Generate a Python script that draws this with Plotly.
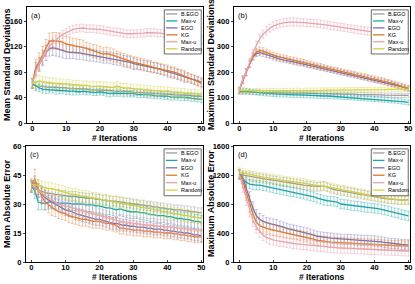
import plotly.graph_objects as go

iters = list(range(51))
names = ["B.EGO", "Max-v", "EGO", "KG", "Max-u", "Random"]
colors = ["#9b9b9b", "#1ba6a6", "#7272b8", "#e0782a", "#e6a5b0", "#d2d240"]
err_colors = ["rgba(155,155,155,0.55)", "rgba(27,166,166,0.5)", "rgba(114,114,184,0.5)",
              "rgba(224,120,42,0.5)", "rgba(230,165,176,0.6)", "rgba(210,210,64,0.5)"]

# ---------------- (a) Mean Standard Deviations ----------------
a_bego = [60,58,58,57,57,56,56,56,55,55,55,54,54,54,53,53,53,52,52,52,52,51,51,51,50,50,50,49,49,49,48,48,48,47,47,47,46,46,46,45,45,45,44,44,44,43,43,43,42,42,42]
a_maxv = [62,58,55,53,52,52,52,51,51,51,50,50,50,49,49,50,49,49,48,48,49,48,47,46,47,47,47,46,46,46,46,45,45,45,44,44,43,43,43,42,42,41,41,41,40,40,40,39,39,38,37]
a_ego = [62,85,92,102,110,117,118,117,115,113,112,111,111,110,110,109,108,107,106,105,104,103,103,102,101,100,99,97,96,95,93,92,91,90,89,88,87,86,84,82,80,79,78,76,74,72,71,69,68,66,64]
a_kg = [62,88,96,106,118,128,129,129,128,127,124,123,122,121,120,119,117,115,113,112,110,108,109,108,106,104,102,100,98,97,95,94,93,92,90,89,87,86,85,84,83,81,80,78,76,74,72,70,67,65,62]
a_maxu = [62,80,92,102,112,120,126,131,135,139,142,145,147,148,149,149,148,148,148,147,147,146,145,144,143,143,142,141,140,140,140,140,141,141,142,142,142,141,141,140,139,138,137,136,135,135,134,133,132,131,130]
a_rand = [63,64,66,65,64,63,63,62,62,62,61,61,60,60,60,59,59,58,58,58,58,57,57,56,56,58,56,55,55,54,54,53,53,52,52,51,51,50,50,50,49,49,48,48,47,47,46,46,46,45,45]
a_bego_err = [4,5,5,6,5,6,5,6,5,5,6,5,5,6,5,5,6,5,5,5,6,5,5,5,6,5,5,5,5,6,5,5,5,5,6,5,5,5,5,5,6,5,5,5,5,5,5,5,5,5,5]
a_maxv_err = [6,7,6,6,6,5,5,6,5,5,5,5,6,5,5,5,5,5,5,5,5,5,5,5,5,5,5,5,5,5,5,5,5,5,5,5,5,5,5,5,5,5,5,5,5,5,5,5,5,5,5]
a_ego_err = [8,10,11,12,12,12,12,12,11,11,11,10,10,10,10,10,10,10,9,9,9,9,9,9,9,9,9,9,9,9,9,8,8,8,8,8,8,8,8,8,8,8,8,8,8,8,7,7,7,7,7]
a_kg_err = [8,12,14,14,13,13,13,13,13,12,12,12,11,11,11,11,10,10,10,10,10,10,10,10,10,9,9,9,9,9,9,9,9,9,9,9,8,8,8,8,8,8,8,8,8,8,7,7,7,7,7]
a_maxu_err = [6,8,8,7,7,6,6,6,6,6,6,6,6,6,6,6,6,6,6,6,6,6,6,6,6,6,6,6,6,6,6,6,6,6,6,6,6,6,6,6,6,6,6,6,6,6,6,6,6,6,6]
a_rand_err = [7,9,9,8,8,8,8,8,7,7,7,7,7,7,7,7,7,7,7,7,7,7,7,7,7,7,7,7,7,7,7,7,7,7,7,7,7,7,7,7,7,7,7,7,7,7,7,7,7,7,7]

# ---------------- (b) Maximum Standard Deviations ----------------
b_bego = [122,121,121,121,120,120,120,119,119,119,118,118,118,118,117,117,117,117,116,116,116,116,116,115,115,115,115,115,114,114,114,114,113,113,113,112,112,112,111,111,110,110,110,109,109,109,108,108,108,108,108]
b_maxv = [125,126,125,123,121,120,119,117,116,115,114,113,113,112,112,111,110,110,110,109,109,108,108,107,107,106,106,105,104,104,103,102,102,101,100,99,98,97,96,95,94,93,92,91,90,89,88,86,85,83,81]
b_ego = [130,168,198,230,258,272,276,273,268,263,258,254,251,248,246,243,240,237,234,232,229,226,223,220,217,214,211,208,205,202,199,196,193,190,187,184,181,178,175,172,169,166,163,160,157,153,150,146,142,138,134]
b_kg = [130,170,200,232,262,278,284,282,276,270,265,261,258,255,252,249,246,243,240,237,233,230,227,224,221,218,215,212,209,206,203,200,197,194,191,188,185,182,179,176,173,170,167,164,160,157,153,149,145,141,137]
b_maxu = [130,172,200,238,272,305,330,348,362,372,380,386,390,393,395,396,396,396,395,394,393,392,391,390,388,386,384,382,380,378,376,374,372,370,368,366,364,362,360,358,356,354,352,350,348,346,344,342,340,338,336]
b_rand = [128,127,127,126,126,126,127,127,126,126,127,127,127,126,127,127,127,128,127,127,128,128,128,128,128,129,128,129,129,129,129,129,130,130,130,130,130,130,131,131,131,131,131,131,132,132,132,132,132,133,133]
b_bego_err = [9,9,8,8,8,8,8,8,8,8,8,8,8,8,8,8,8,8,8,8,8,8,8,8,8,8,8,8,8,8,8,8,8,8,8,8,8,8,8,8,8,8,8,8,8,8,8,8,8,8,8]
b_maxv_err = [10,11,10,10,10,10,10,10,10,10,10,10,10,10,10,10,10,10,10,10,10,10,10,10,10,10,10,10,10,10,10,10,10,10,10,10,10,10,10,10,10,10,10,10,10,10,10,10,10,10,10]
b_ego_err = [10,12,12,12,12,12,12,12,11,11,11,11,11,10,10,10,10,10,10,10,10,10,10,10,10,10,10,10,10,10,10,10,10,10,10,10,10,10,10,10,10,10,10,10,10,10,10,10,10,10,10]
b_kg_err = [10,14,14,14,14,14,14,13,13,13,12,12,12,12,12,12,12,12,12,12,12,12,12,12,12,12,11,11,11,11,11,11,11,11,11,11,11,11,11,11,11,11,11,11,11,11,11,11,11,11,11]
b_maxu_err = [10,14,15,16,16,16,16,16,16,16,16,16,16,16,16,16,16,16,15,15,15,15,15,15,15,15,15,15,15,15,15,15,15,15,15,15,15,15,15,15,15,15,15,15,15,15,15,15,15,15,15]
b_rand_err = [10,10,9,9,9,9,9,9,9,9,9,9,9,9,9,9,9,9,9,9,9,9,9,9,9,9,9,9,9,9,9,9,9,9,9,9,9,9,9,9,9,9,9,9,9,9,9,9,9,9,9]

# ---------------- (c) Mean Absolute Error ----------------
c_bego = [39,38,37,36.5,36,35.5,35.5,35,35,34.5,34.5,34,34,34,33.5,33.5,33,33,33,32.5,32.5,32,32,31.5,31.5,31.5,31,31,30.5,30.5,30,30,29.5,29.5,29,29,28.5,28.5,28,28,27.5,27.5,27,27,27,26.5,26.5,26,26,25.5,25.5]
c_maxv = [39,37,31,30.5,30.5,31,31,31,30.5,30.5,30.5,30.5,30,30,30,30,29.5,29.5,29.5,29,29,28.5,28,28,27.5,27,27.5,27,26.5,26,26,26,25.5,25.5,25,24.5,24.5,24,24,24,23.5,23.5,23,22.5,22.5,22,22,21.5,21,21,20.5]
c_ego = [39,41,37,35,33.5,32,31,30,29,28,27,26.5,26,25,24.5,24,23.5,23,22.5,22,22,21.5,21,20.5,20,20,19.5,19,19,18.5,18.5,18,18,18,17.5,17.5,17,17,17,16.5,16.5,16,16,15.5,15.5,15,15,14.5,14,14,13.5]
c_kg = [40,43,38,34,31,29.5,28,27,26,25.5,25,24,23.5,23,22.5,22,22,21.5,21,21,21,20.5,20,20,19.5,19,17.5,17.5,17,17,16.5,16.5,16.5,16,16,16,15.5,15.5,15.5,15,15,15,14.5,14.5,14,14,13.5,13.5,13,13,13]
c_maxu = [39,39,37,35.5,34,33,32,31,30,29.5,29,28.5,28,27.5,27,26.5,26,25.5,25,24.5,24,23.5,23,22.5,22,21.5,21,21,20.5,20.5,20,20,19.5,19.5,19,19,19,18.5,18.5,18.5,18,18,18,17.5,17.5,17.5,17,17,17,16.5,16.5]
c_rand = [40,40,39.5,39,38.5,38,38,37.5,37,36.5,36,35.5,35,35,34.5,34,34,33.5,33,33,32.5,32,32,31.5,31,31,30.5,30,30,29.5,29,29,28.5,28,28,27.5,27,27,26.5,26,26,25.5,25,25,24.5,24,24,23.5,23,23,22.5]
c_bego_err = [2.5,3,3,3,2.5,2.5,2.5,2.5,2.5,2.5,2.5,2.5,2.5,2.5,2.5,2.5,2.5,2.5,2.5,2.5,2.5,2.5,2.5,2.5,2.5,2.5,2.5,2.5,2.5,2.5,2.5,2.5,2.5,2.5,2.5,2.5,2.5,2.5,2.5,2.5,2.5,2.5,2.5,2.5,2.5,2.5,2.5,2.5,2.5,2.5,2.5]
c_maxv_err = [3,4,4,3.5,3.5,3.5,3.5,3.5,3.5,3.5,3.5,3.5,3.5,3.5,3.5,3.5,3.5,3.5,3.5,3.5,3.5,3.5,3.5,3.5,3.5,3.5,3.5,3.5,3.5,3.5,3.5,3.5,3.5,3.5,3.5,3.5,3.5,3.5,3.5,3.5,3.5,3.5,3.5,3.5,3.5,3.5,3.5,3.5,3.5,3.5,3.5]
c_ego_err = [3,3.5,3.5,3.5,3.5,3.5,3,3,3,3,3,3,3,3,3,3,3,3,3,3,3,3,3,3,3,3,3,3,3,3,3,3,3,3,3,3,3,3,3,3,3,3,3,3,3,3,3,3,3,3,3]
c_kg_err = [3,5,4.5,4,4,4,4,3.5,3.5,3.5,3.5,3.5,3.5,3.5,3.5,3.5,3.5,3.5,3.5,3.5,3.5,3.5,3.5,3.5,3.5,3.5,3,3,3,3,3,3,3,3,3,3,3,3,3,3,3,3,3,3,3,3,3,3,3,3,3]
c_maxu_err = [3,3.5,3.5,3.5,3.5,3.5,3.5,3.5,3.5,3.5,3.5,3.5,3.5,3.5,3.5,3.5,3.5,3.5,3.5,3.5,3.5,3.5,3.5,3.5,3.5,3.5,3.5,3.5,3.5,3.5,3.5,3.5,3.5,3.5,3.5,3.5,3.5,3.5,3.5,3.5,3.5,3.5,3.5,3.5,3.5,3.5,3.5,3.5,3.5,3.5,3.5]
c_rand_err = [3,3,3,3,3,3,3,3,3,3,3,3,3,3,3,3,3,3,3,3,3,3,3,3,3,3,3,3,3,3,3,3,3,3,3,3,3,3,3,3,3,3,3,3,3,3,3,3,3,3,3]

# ---------------- (d) Maximum Absolute Error ----------------
d_bego = [1210,1200,1190,1180,1170,1160,1155,1150,1140,1135,1125,1120,1110,1105,1100,1090,1085,1080,1070,1060,1055,1050,1040,1035,1040,1050,1030,1010,1000,990,980,975,965,960,950,940,930,925,915,905,900,890,885,875,870,865,860,855,855,855,860]
d_maxv = [1200,1150,1100,1075,1065,1060,1060,1050,1045,1030,1020,1010,1000,990,980,970,965,955,945,935,920,910,900,880,865,850,845,840,835,825,800,795,790,780,775,770,765,755,750,745,740,735,725,715,705,695,680,670,655,645,635]
d_ego = [1220,1160,1020,880,740,640,590,560,540,530,520,510,495,480,465,450,440,430,420,410,400,385,370,355,345,340,335,330,325,320,315,312,310,308,305,302,300,297,295,292,290,285,278,270,262,258,252,248,243,240,236]
d_kg = [1210,1120,960,800,660,550,500,480,460,450,440,430,420,410,400,390,385,375,365,355,345,330,315,300,290,285,280,275,272,270,268,265,262,260,258,255,252,250,248,246,244,240,237,234,231,228,226,224,222,220,218]
d_maxu = [1200,1050,880,720,580,480,420,370,340,320,305,295,285,278,270,262,255,250,245,240,235,228,222,218,214,210,206,202,198,195,192,190,188,186,184,182,180,178,176,174,172,170,168,166,164,162,160,158,156,154,152]
d_rand = [1240,1230,1210,1200,1190,1180,1175,1170,1165,1155,1145,1140,1135,1125,1120,1115,1110,1100,1095,1090,1080,1070,1065,1055,1050,1045,1040,1030,1020,1010,1000,995,985,975,965,960,950,940,930,920,910,900,895,885,880,870,865,860,855,850,850]
d_bego_err = [60,60,60,60,60,60,60,60,60,60,60,60,60,60,60,60,60,60,60,60,60,60,60,60,60,60,60,60,60,60,60,60,60,60,60,60,60,60,60,60,60,60,60,60,60,60,60,60,60,60,60]
d_maxv_err = [60,70,70,65,65,65,65,65,65,65,65,65,65,65,65,65,65,65,65,65,65,65,65,65,65,65,65,65,65,65,65,65,65,65,65,65,65,65,65,65,65,65,65,65,65,65,65,65,65,65,65]
d_ego_err = [60,80,90,90,90,85,80,80,75,75,75,75,70,70,70,70,70,70,70,70,70,70,70,70,70,70,70,70,70,70,70,70,70,70,70,70,70,70,70,70,70,70,70,70,70,70,70,70,70,70,70]
d_kg_err = [60,90,110,110,110,100,90,85,80,80,75,75,75,75,70,70,70,70,70,70,70,70,70,70,70,70,70,70,70,70,70,70,70,70,70,70,70,70,70,70,70,70,70,70,70,70,70,70,70,70,70]
d_maxu_err = [60,90,100,100,90,80,80,75,75,75,70,70,70,70,70,70,70,70,70,70,70,70,70,70,70,70,70,70,70,70,70,70,70,70,70,70,70,70,70,70,70,70,70,70,70,70,70,70,70,70,70]
d_rand_err = [60,60,60,60,60,60,60,60,60,60,60,60,60,60,60,60,60,60,60,60,60,60,60,60,60,60,60,60,60,60,60,60,60,60,60,60,60,60,60,60,60,60,60,60,60,60,60,60,60,60,60]

panels = [
    ("", [a_bego, a_maxv, a_ego, a_kg, a_maxu, a_rand],
     [a_bego_err, a_maxv_err, a_ego_err, a_kg_err, a_maxu_err, a_rand_err]),
    ("2", [b_bego, b_maxv, b_ego, b_kg, b_maxu, b_rand],
     [b_bego_err, b_maxv_err, b_ego_err, b_kg_err, b_maxu_err, b_rand_err]),
    ("3", [c_bego, c_maxv, c_ego, c_kg, c_maxu, c_rand],
     [c_bego_err, c_maxv_err, c_ego_err, c_kg_err, c_maxu_err, c_rand_err]),
    ("4", [d_bego, d_maxv, d_ego, d_kg, d_maxu, d_rand],
     [d_bego_err, d_maxv_err, d_ego_err, d_kg_err, d_maxu_err, d_rand_err]),
]
panel_labels = ["(a)", "(b)", "(c)", "(d)"]
y_titles = ["Mean Standard Deviations", "Maximum Standard Deviations",
            "Mean Absolute Error", "Maximum Absolute Error"]
x_title = "# Iterations"
y_ranges = [[0, 182], [0, 455], [0, 60], [0, 1600]]
y_ticks = [[0, 40, 80, 120, 160], [0, 100, 200, 300, 400], [0, 15, 30, 45, 60], [0, 400, 800, 1200, 1600]]
x_ticks = [0, 10, 20, 30, 40, 50]

W, H = 415, 284
frames = [(27, 203, 7, 123), (234, 410, 7, 123), (26, 203, 146, 262), (234, 410, 146, 262)]
ytitle_x = [7, 211, 7, 211]
xtitle_y = [138, 138, 277, 277]

FONT = "Liberation Sans, Arial, sans-serif"
fig = go.Figure()

for (sfx, series, errs) in panels:
    for name, col, ecol, ys, es in zip(names, colors, err_colors, series, errs):
        fig.add_trace(go.Scatter(
            x=iters, y=ys, mode="lines", name=name, showlegend=False, hoverinfo="skip",
            line=dict(color=col, width=1.3),
            error_y=dict(type="data", array=es, visible=True, color=ecol, thickness=0.8, width=1.5),
            xaxis="x" + sfx, yaxis="y" + sfx))

layout = dict(width=W, height=H, margin=dict(l=0, r=0, t=0, b=0),
              paper_bgcolor="white", plot_bgcolor="white",
              font=dict(family=FONT, color="black"))
annotations = []
shapes = []
for i, (sfx, _, _) in enumerate(panels):
    x0, x1, y0, y1 = frames[i]
    xa = "xaxis" + sfx
    ya = "yaxis" + sfx
    layout[xa] = dict(domain=[x0 / W, x1 / W], range=[-1.6, 50.5], anchor="y" + sfx,
                      tickvals=x_ticks, ticks="inside", ticklen=2, tickwidth=1,
                      ticklabelstandoff=-2,
                      showline=True, mirror=True, linecolor="black", linewidth=1.3,
                      showgrid=False, zeroline=False, automargin=False,
                      tickfont=dict(size=7.5, weight="bold"))
    layout[ya] = dict(domain=[1 - y1 / H, 1 - y0 / H], range=y_ranges[i], anchor="x" + sfx,
                      tickvals=y_ticks[i], ticks="outside", ticklen=2, tickwidth=1,
                      showline=True, mirror=True, linecolor="black", linewidth=1.3,
                      showgrid=False, zeroline=False, automargin=False,
                      tickfont=dict(size=7.5, weight="bold"))
    # axis titles
    annotations.append(dict(text=x_title, xref="paper", yref="paper",
                            x=(x0 + x1) / 2 / W, y=1 - xtitle_y[i] / H,
                            xanchor="center", yanchor="middle", showarrow=False,
                            font=dict(size=8.5, weight="bold")))
    annotations.append(dict(text=y_titles[i], xref="paper", yref="paper",
                            x=ytitle_x[i] / W, y=1 - (y0 + y1) / 2 / H, textangle=-90,
                            xanchor="center", yanchor="middle", showarrow=False,
                            font=dict(size=9, weight="bold")))
    xd = ("x" + sfx) + " domain"
    yd = ("y" + sfx) + " domain"
    annotations.append(dict(text=panel_labels[i], xref=xd, yref=yd, x=0.01, y=0.985,
                            xanchor="left", yanchor="top", showarrow=False,
                            font=dict(size=7.5)))
    # legend box
    top = 0.975
    step = 0.06 if i < 2 else 0.064
    bottom = top - step * 6 - 0.02
    shapes.append(dict(type="rect", xref=xd, yref=yd, x0=0.78, x1=0.99, y0=bottom, y1=top,
                       line=dict(color="#444", width=0.8), fillcolor="white", layer="above"))
    for k, (name, col) in enumerate(zip(names, colors)):
        yy = top - 0.035 - step * k
        shapes.append(dict(type="line", xref=xd, yref=yd, x0=0.79, x1=0.855, y0=yy, y1=yy,
                           line=dict(color=col, width=1.3), layer="above"))
        annotations.append(dict(text=name, xref=xd, yref=yd, x=0.865, y=yy,
                                xanchor="left", yanchor="middle", showarrow=False,
                                font=dict(size=5.5)))

layout["annotations"] = annotations
layout["shapes"] = shapes
fig.update_layout(**layout)
fig.write_html("out.html", config={"displayModeBar": False},
               post_script="document.body.style.margin='0';")
